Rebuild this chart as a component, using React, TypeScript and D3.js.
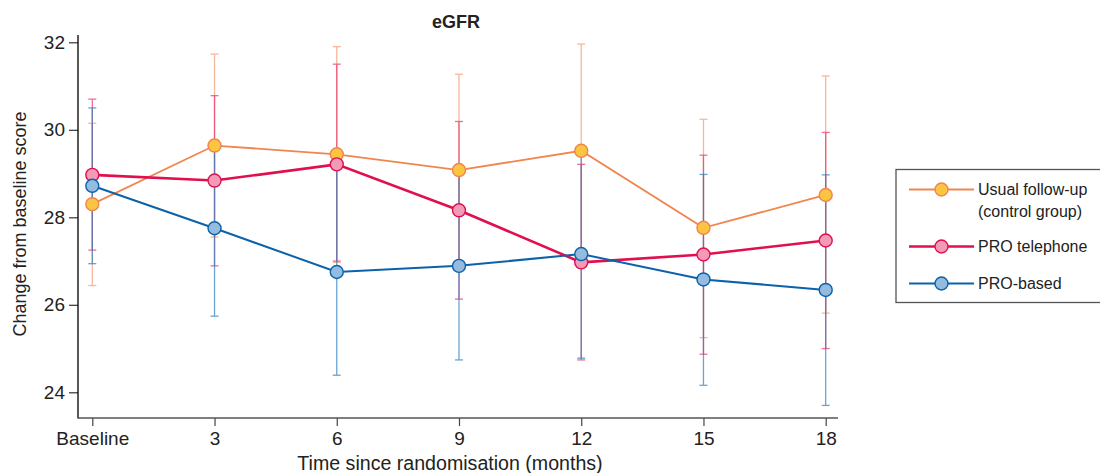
import React, { useEffect, useRef } from "react";
import * as d3 from "d3";

// time points (months) and their tick labels
const months = [0, 3, 6, 9, 12, 15, 18];
const xLabels = ["Baseline", "3", "6", "9", "12", "15", "18"];
const yTicks = [24, 26, 28, 30, 32];

// Usual follow-up (control group)
const usualMean = [28.3, 29.64, 29.44, 29.08, 29.52, 27.76, 28.51];
const usualLow = [26.44, 27.55, 26.97, 26.89, 27.08, 25.25, 25.81];
const usualHigh = [30.15, 31.73, 31.9, 31.27, 31.96, 30.24, 31.23];

// PRO telephone
const phoneMean = [28.97, 28.84, 29.21, 28.16, 26.97, 27.15, 27.47];
const phoneLow = [27.25, 26.89, 27.0, 26.13, 24.74, 24.87, 25.0];
const phoneHigh = [30.7, 30.78, 31.5, 30.19, 29.21, 29.42, 29.94];

// PRO-based
const basedMean = [28.72, 27.75, 26.75, 26.89, 27.16, 26.58, 26.34];
const basedLow = [26.94, 25.74, 24.39, 24.74, 24.78, 24.16, 23.7];
const basedHigh = [30.5, 29.77, 29.11, 29.04, 29.54, 28.98, 28.97];

const seriesNames = ["Usual follow-up", "PRO telephone", "PRO-based"];

const App = () => {
  const svgRef = useRef<SVGSVGElement>(null);

  useEffect(() => {
    const w = 1100;
    const h = 473;
    const svg = d3.select(svgRef.current).attr("width", w).attr("height", h);
    svg.selectAll("*").remove();
    const font = "'Liberation Sans', Arial, sans-serif";

    const x = d3.scaleLinear().domain([0, 18]).range([92.3, 825.7]);
    const y = d3.scaleLinear().domain([24, 32]).range([392.3, 42.3]);

    const series = [
      { name: seriesNames[0], mean: usualMean, lo: usualLow, hi: usualHigh, line: "#f0854e", fill: "#fbc441", err: "#f49a70", lw: 1.8 },
      { name: seriesNames[1], mean: phoneMean, lo: phoneLow, hi: phoneHigh, line: "#e0104f", fill: "#f29ab7", err: "#e8336a", lw: 2.6 },
      { name: seriesNames[2], mean: basedMean, lo: basedLow, hi: basedHigh, line: "#0b62aa", fill: "#93bcde", err: "#2a7fc0", lw: 2 },
    ];

    // axes
    const yAxis = svg
      .append("g")
      .attr("transform", "translate(78,0)")
      .call(d3.axisLeft(y).tickValues(yTicks).tickSize(9).tickPadding(4));
    yAxis.select(".domain").remove();
    yAxis.selectAll(".tick line").attr("stroke", "#333").attr("stroke-width", 1.2);
    yAxis.selectAll(".tick text").attr("font-family", font).attr("font-size", 19).attr("fill", "#222");
    svg.append("line").attr("x1", 78).attr("x2", 78).attr("y1", 35).attr("y2", 418.5).attr("stroke", "#111").attr("stroke-width", 1.4);

    const xAxis = svg
      .append("g")
      .attr("transform", "translate(0,418)")
      .call(
        d3
          .axisBottom(x)
          .tickValues(months)
          .tickFormat((d, i) => xLabels[i])
          .tickSize(8)
          .tickPadding(6)
      );
    xAxis.select(".domain").remove();
    xAxis.selectAll(".tick line").attr("stroke", "#444").attr("stroke-width", 1.2);
    xAxis.selectAll(".tick text").attr("font-family", font).attr("font-size", 19).attr("fill", "#222");
    svg.append("line").attr("x1", 78).attr("x2", 838).attr("y1", 418).attr("y2", 418).attr("stroke", "#555").attr("stroke-width", 1.4);

    // error bars
    series.forEach((s) => {
      const g = svg.append("g").attr("stroke", s.err).attr("stroke-width", 1.3).attr("opacity", 0.7);
      months.forEach((m, i) => {
        g.append("line").attr("x1", x(m)).attr("x2", x(m)).attr("y1", y(s.lo[i])).attr("y2", y(s.hi[i]));
        g.append("line").attr("x1", x(m) - 4).attr("x2", x(m) + 4).attr("y1", y(s.lo[i])).attr("y2", y(s.lo[i]));
        g.append("line").attr("x1", x(m) - 4).attr("x2", x(m) + 4).attr("y1", y(s.hi[i])).attr("y2", y(s.hi[i]));
      });
    });

    // lines + markers
    const line = d3
      .line<number>()
      .x((d, i) => x(months[i]))
      .y((d) => y(d));
    series.forEach((s) => {
      svg.append("path").attr("d", line(s.mean)).attr("fill", "none").attr("stroke", s.line).attr("stroke-width", s.lw);
      svg
        .append("g")
        .selectAll("circle")
        .data(s.mean)
        .join("circle")
        .attr("cx", (d, i) => x(months[i]))
        .attr("cy", (d) => y(d))
        .attr("r", 6.5)
        .attr("fill", s.fill)
        .attr("stroke", s.line)
        .attr("stroke-width", 1.4);
    });

    // title and axis labels
    svg.append("text").attr("x", 456).attr("y", 28).attr("text-anchor", "middle")
      .attr("font-family", font).attr("font-size", 18).attr("font-weight", "bold").attr("fill", "#222").text("eGFR");
    svg.append("text").attr("transform", "translate(26,224) rotate(-90)").attr("text-anchor", "middle")
      .attr("font-family", font).attr("font-size", 18).attr("fill", "#222").text("Change from baseline score");
    svg.append("text").attr("x", 450).attr("y", 470).attr("text-anchor", "middle")
      .attr("font-family", font).attr("font-size", 19.6).attr("fill", "#222").text("Time since randomisation (months)");

    // legend
    const lg = svg.append("g");
    lg.append("rect").attr("x", 896).attr("y", 169.5).attr("width", 230).attr("height", 133)
      .attr("fill", "white").attr("stroke", "#555").attr("stroke-width", 1.3);
    const rowsY = [189.5, 246.5, 283.5];
    series.forEach((s, i) => {
      lg.append("line").attr("x1", 909).attr("x2", 974).attr("y1", rowsY[i]).attr("y2", rowsY[i])
        .attr("stroke", s.line).attr("stroke-width", s.lw);
      lg.append("circle").attr("cx", 941.5).attr("cy", rowsY[i]).attr("r", 6.5)
        .attr("fill", s.fill).attr("stroke", s.line).attr("stroke-width", 1.4);
      lg.append("text").attr("x", 978).attr("y", rowsY[i] + 5.5)
        .attr("font-family", font).attr("font-size", 16).attr("fill", "#222").text(s.name);
    });
    lg.append("text").attr("x", 978).attr("y", rowsY[0] + 27.5)
      .attr("font-family", font).attr("font-size", 16).attr("fill", "#222").text("(control group)");
  }, []);

  return (
    <div className="lineChart">
      <svg ref={svgRef} style={{ position: "absolute", left: 0, top: 0 }}></svg>
    </div>
  );
};

export default App;
